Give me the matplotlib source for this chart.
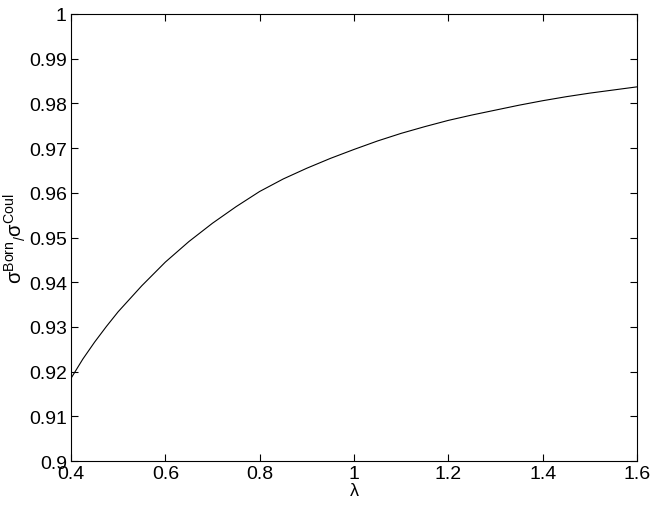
import matplotlib
matplotlib.use('Agg')
import matplotlib.pyplot as plt

# ratio
lam = [0.400, 0.425, 0.450, 0.475, 0.50, 0.55, 0.60, 0.65, 0.70, 0.75,
       0.80, 0.85, 0.90, 0.95, 1.00, 1.05, 1.10, 1.15, 1.20, 1.25, 1.30,
       1.35, 1.40, 1.45, 1.50, 1.55, 1.60]
ratio = [0.9185, 0.9228, 0.9266, 0.9301, 0.9334, 0.9392, 0.9445, 0.9491,
         0.9532, 0.9569, 0.9603, 0.9631, 0.9655, 0.9677, 0.9697, 0.9716,
         0.9733, 0.9748, 0.9762, 0.9774, 0.9785, 0.9796, 0.9806, 0.9815,
         0.9823, 0.9830, 0.9837]

xticks = [0.4, 0.6, 0.8, 1.0, 1.2, 1.4, 1.6]
xticklabels = ['0.4', '0.6', '0.8', '1', '1.2', '1.4', '1.6']
yticks = [0.9, 0.91, 0.92, 0.93, 0.94, 0.95, 0.96, 0.97, 0.98, 0.99, 1.0]
yticklabels = ['0.9', '0.91', '0.92', '0.93', '0.94', '0.95', '0.96',
               '0.97', '0.98', '0.99', '1']

plt.rcParams['font.family'] = ['Liberation Sans', 'DejaVu Sans']
plt.rcParams['mathtext.fontset'] = 'custom'
plt.rcParams['mathtext.rm'] = 'Liberation Sans'
plt.rcParams['mathtext.it'] = 'Liberation Sans'
plt.rcParams['mathtext.default'] = 'regular'

fig = plt.figure(figsize=(6.54, 5.10), dpi=100)
ax = fig.add_axes([0.1086, 0.0941, 0.8654, 0.8765])
ax.plot(lam, ratio, color='black', lw=0.8)

ax.set_xlim(0.4, 1.6)
ax.set_ylim(0.9, 1.0)
ax.set_xticks(xticks)
ax.set_xticklabels(xticklabels)
ax.set_yticks(yticks)
ax.set_yticklabels(yticklabels)
ax.tick_params(direction='in', top=True, right=True, length=5, width=0.8,
               labelsize=14, pad=3)
for s in ax.spines.values():
    s.set_linewidth(0.8)

ax.set_xlabel('λ', fontsize=13, labelpad=0)
ax.set_ylabel(r'$σ^{Born}{}_{/}σ^{Coul}$', fontsize=14.5, va='center')
ax.yaxis.set_label_coords(-0.1, 0.5)

fig.savefig('out.png', dpi=100)
